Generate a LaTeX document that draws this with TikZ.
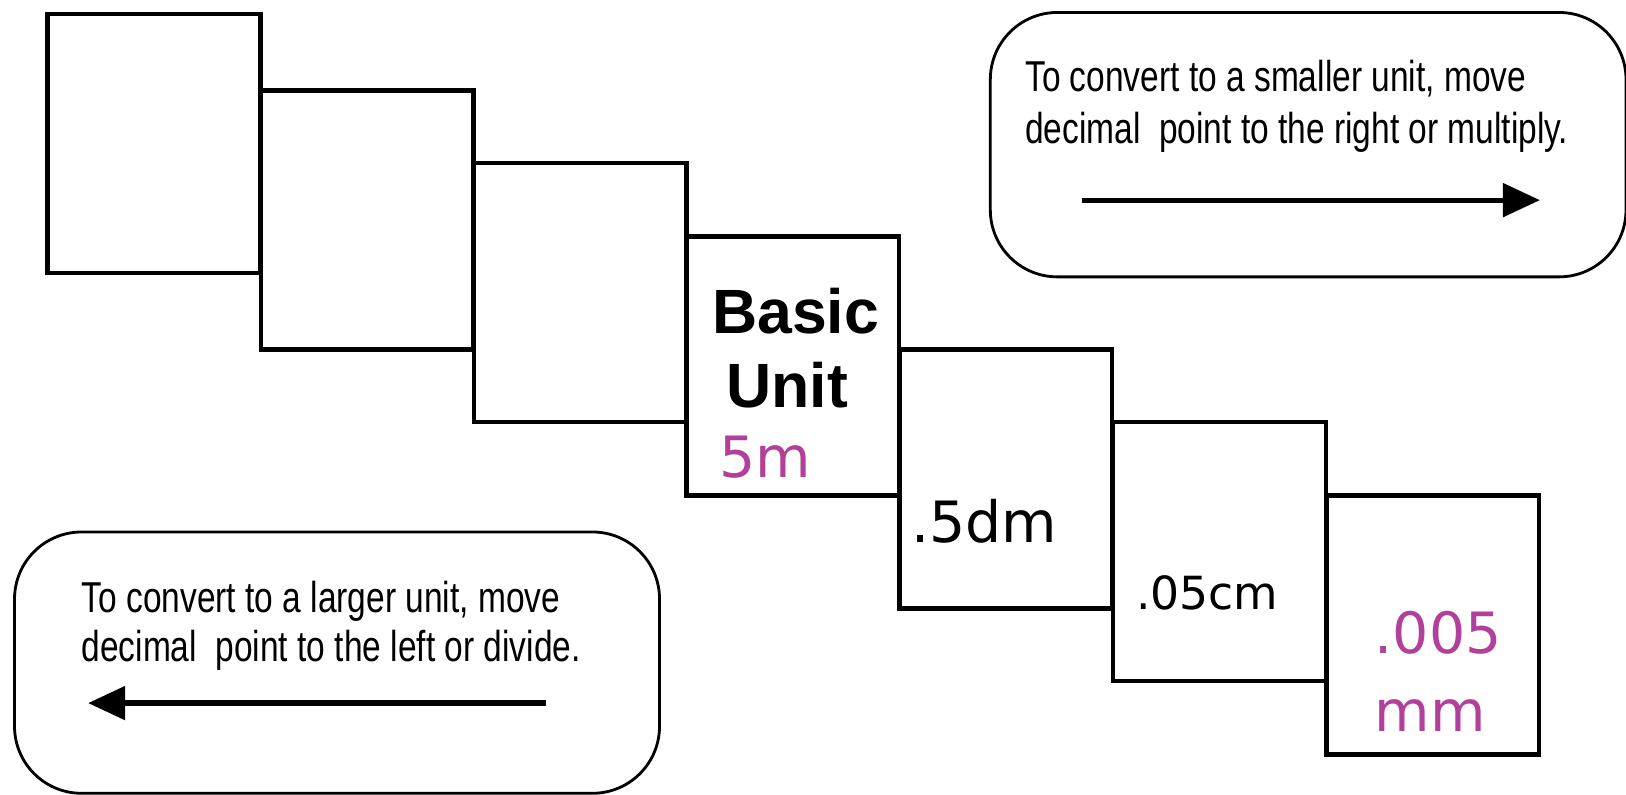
\documentclass[tikz,border=0pt]{standalone}
\usepackage{fontspec}
\setmainfont{Liberation Sans}
\newfontfamily\narrowfont{Liberation Sans}[FakeStretch=0.775]
\newfontfamily\valuefont{DejaVu Sans}
\usetikzlibrary{arrows.meta}
\definecolor{valpink}{RGB}{178,64,155}
\tikzset{
  stepbox/.style={draw, line width=1.3pt, minimum width=2.126cm, minimum height=2.59cm, inner sep=0pt},
  notebox/.style={draw, line width=0.8pt, rounded corners=0.67cm, inner sep=0pt},
  notetext/.style={anchor=base west, inner sep=0pt, font=\narrowfont\fontsize{12.3}{14}\selectfont},
  valtext/.style={anchor=base west, inner sep=0pt, font=\valuefont\fontsize{16.2}{19}\selectfont},
  unittext/.style={anchor=base west, inner sep=0pt, font=\bfseries\fontsize{17.8}{21}\selectfont},
  bigarrow/.style={line width=1.5pt, -{Triangle[length=0.37cm,width=0.33cm]}}
}
\begin{document}
\begin{tikzpicture}[x=1.037cm, y=1.037cm]
      \useasboundingbox (0,0) rectangle (15.68,-7.657);
      % staircase of units
      \node[stepbox] (s1) at (1.485,-1.385) {};
      \node[stepbox] (s2) at (3.54,-2.12) {};
      \node[stepbox] (s3) at (5.595,-2.82) {};
      \node[stepbox] (s4) at (7.645,-3.53) {};
      \node[stepbox] (s5) at (9.70,-4.62) {};
      \node[stepbox] (s6) at (11.76,-5.32) {};
      \node[stepbox] (s7) at (13.815,-6.025) {};
      % labels in the steps
      \node[unittext] (basic) at (6.86,-3.22) {Basic};
      \node[unittext] (unit) at (7.00,-3.93) {Unit};
      \node[valtext, text=valpink] (m) at (6.93,-4.60) {5m};
      \node[valtext] (dm) at (8.78,-5.23) {.5dm};
      \node[valtext, font=\valuefont\fontsize{13}{15}\selectfont] (cm) at (10.95,-5.88) {.05cm};
      \node[valtext, text=valpink] (mm1) at (13.25,-6.30) {.005};
      \node[valtext, text=valpink] (mm2) at (13.25,-7.05) {mm};
      % notes
      \node[notebox, minimum width=6.357cm, minimum height=2.644cm] (right) at (12.615,-1.395) {};
      \node[notetext] (right1) at (9.88,-0.88) {To convert to a smaller unit, move};
      \node[notetext] (right2) at (9.88,-1.38) {decimal\ \ point to the right or multiply.};
      \coordinate (ra) at (10.43,-1.93);
      \coordinate (rb) at (14.85,-1.93);
      \draw[bigarrow] (ra) -- (rb);
      \node[notebox, minimum width=6.45cm, minimum height=2.613cm] (left) at (3.25,-6.39) {};
      \node[notetext] (left1) at (0.78,-5.91) {To convert to a larger unit, move};
      \node[notetext] (left2) at (0.78,-6.38) {decimal\ \ point to the left or divide.};
      \coordinate (la) at (5.27,-6.78);
      \coordinate (lb) at (0.85,-6.78);
      \draw[bigarrow] (la) -- (lb);
    \end{tikzpicture}
\end{document}
